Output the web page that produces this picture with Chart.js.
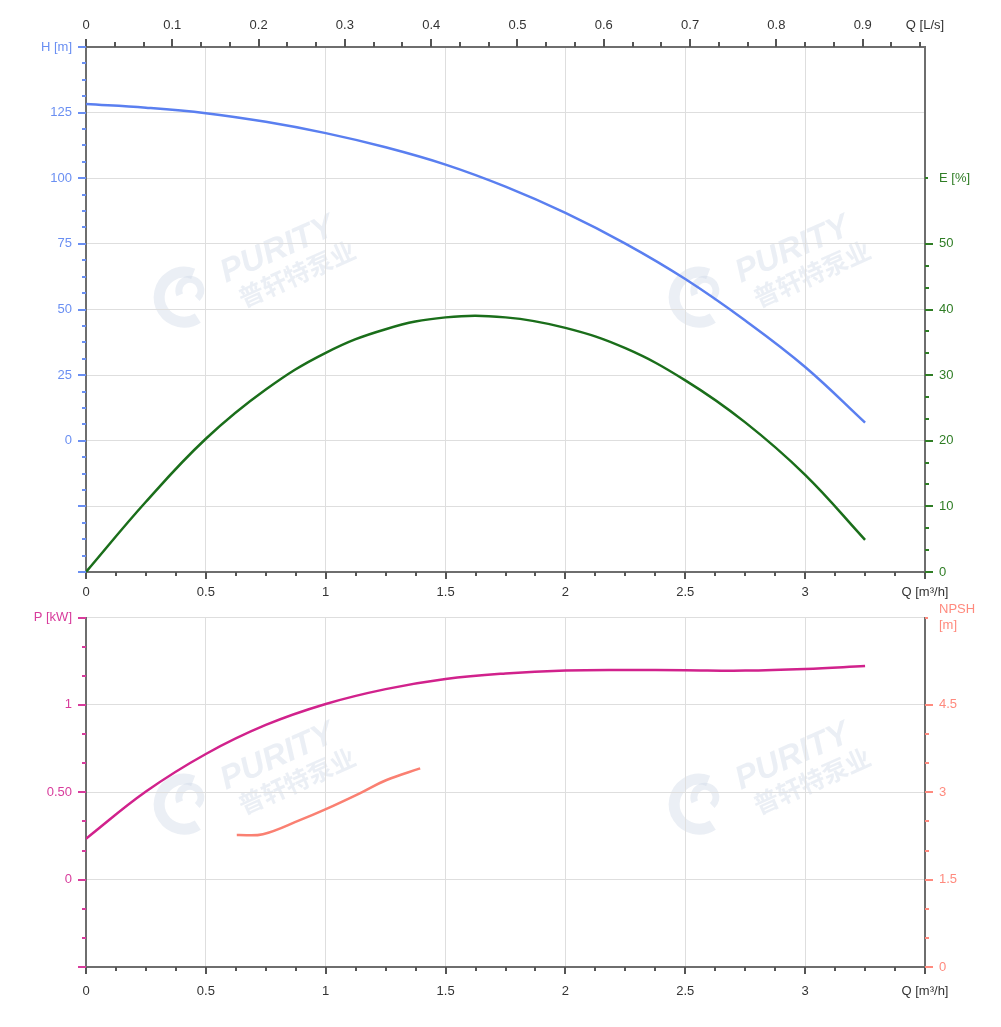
<!DOCTYPE html>
<html><head><meta charset="utf-8">
<script src="https://cdn.jsdelivr.net/npm/chart.js@4.4.0/dist/chart.umd.min.js"></script>
<style>
html,body{margin:0;padding:0;background:#fff;}
#wrap{position:relative;width:1001px;height:1027px;overflow:hidden;}
#c1{position:absolute;left:0;top:0;}
#c2{position:absolute;left:0;top:600px;}
</style></head><body>
<div id="wrap">
<canvas id="c1" width="1001" height="600"></canvas>
<canvas id="c2" width="1001" height="427"></canvas>
</div>
<script>
// ---- data ----
const flowH  = [0, 0.25, 0.5, 0.75, 1, 1.25, 1.5, 1.75, 2, 2.25, 2.5, 2.75, 3, 3.25];
const headM  = [128.3, 126.9, 124.8, 121.5, 117.2, 111.8, 105.2, 96.8, 86.8, 75.1, 61.6, 45.8, 28.1, 6.9];
const flowE  = [0, 0.25, 0.5, 0.75, 1, 1.25, 1.5, 1.75, 2, 2.25, 2.5, 2.75, 3, 3.25];
const effPct = [0, 10.7, 20.3, 27.8, 33.4, 37.0, 38.8, 38.8, 37.2, 34.1, 29.2, 22.8, 14.8, 4.9];
const flowP  = [0, 0.25, 0.5, 0.75, 1, 1.25, 1.5, 1.75, 2, 2.25, 2.5, 2.75, 3, 3.25];
const powerKW= [0.234, 0.504, 0.719, 0.885, 1.005, 1.09, 1.148, 1.18, 1.197, 1.2, 1.198, 1.196, 1.205, 1.222];
const flowN  = [0.629, 0.738, 0.892, 0.996, 1.142, 1.254, 1.394];
const npshM  = [2.266, 2.28, 2.52, 2.70, 2.98, 3.21, 3.41];

const qTicks   = [0, 0.5, 1, 1.5, 2, 2.5, 3, 3.5];
const lsTicks  = [0, 0.1, 0.2, 0.3, 0.4, 0.5, 0.6, 0.7, 0.8, 0.9];
const hTicks   = [-50, -25, 0, 25, 50, 75, 100, 125, 150];
const eTicks   = [0, 10, 20, 30, 40, 50, 60];
const pTicks   = [-0.5, 0, 0.5, 1, 1.5];
const nTicks   = [0, 1.5, 3, 4.5, 6];

const Q_MAX = 3.5, LS_MAX = 3.5 / 3.6;
const FONT = '"Liberation Sans", Arial, sans-serif';
const C = {
  grid: '#dedede', axis: '#6e6e6e', text: '#333333',
  hLine: '#5a7ff0', hText: '#6a8ff2',
  eLine: '#1a6e1a', eText: '#2f7d25',
  pLine: '#d1228c', pText: '#d83c9c',
  nLine: '#fa8072', nText: '#ff8a7e'
};

function pts(xs, ys) { return xs.map((x, i) => ({x: x, y: ys[i]})); }
function setTicks(list) { return s => { s.ticks = list.map(v => ({value: v})); }; }
function range(step, min, max) { const a = []; const n = Math.round((max - min) / step); for (let i = 0; i <= n; i++) a.push(min + i * step); return a; }
function noPad(s) { s.paddingTop = 0; s.paddingBottom = 0; s.paddingLeft = 0; s.paddingRight = 0; }

function drawTickMarks(chart, id, majors, minors, side, majLen, minLen, color) {
  const s = chart.scales[id], ctx = chart.ctx, ca = chart.chartArea;
  ctx.save(); ctx.strokeStyle = color; ctx.lineWidth = 2;
  const draw = (vals, len) => {
    ctx.beginPath();
    vals.forEach(v => {
      const p = Math.round(s.getPixelForValue(v));
      if (side === 'left')   { ctx.moveTo(ca.left - len, p); ctx.lineTo(ca.left, p); }
      if (side === 'right')  { ctx.moveTo(ca.right, p); ctx.lineTo(ca.right + len, p); }
      if (side === 'bottom') { ctx.moveTo(p, ca.bottom); ctx.lineTo(p, ca.bottom + len); }
      if (side === 'top')    { ctx.moveTo(p, ca.top - len); ctx.lineTo(p, ca.top); }
    });
    ctx.stroke();
  };
  draw(minors, minLen); draw(majors, majLen);
  ctx.restore();
}

function drawWatermark(ctx, x, y) {
  ctx.save();
  ctx.translate(x, y);
  ctx.rotate(-24 * Math.PI / 180);
  const col = 'rgba(205,214,230,0.40)';
  ctx.fillStyle = col; ctx.strokeStyle = col;
  ctx.font = 'italic bold 33px ' + FONT;
  ctx.fillText('PURITY', 0, 0);
  ctx.font = 'bold 25px "Noto Sans CJK SC", sans-serif';
  ctx.fillText('普轩特泵业', 6, 30);
  ctx.lineWidth = 11;
  ctx.beginPath(); ctx.arc(-44, -4, 25, 0.45 * Math.PI, 1.75 * Math.PI); ctx.stroke();
  ctx.lineWidth = 7;
  ctx.beginPath(); ctx.arc(-36, -8, 11, 1.0 * Math.PI, 2.4 * Math.PI); ctx.stroke();
  ctx.restore();
}

const wmPlugin1 = { id: 'wm1', beforeDraw(chart) { drawWatermark(chart.ctx, 226, 283); drawWatermark(chart.ctx, 741, 283); } };
const wmPlugin2 = { id: 'wm2', beforeDraw(chart) { drawWatermark(chart.ctx, 226, 190); drawWatermark(chart.ctx, 741, 190); } };

const ticks1 = { id: 'ticks1', afterDraw(chart) {
  drawTickMarks(chart, 'x', qTicks, range(0.125, 0, Q_MAX), 'bottom', 7, 4, '#555');
  drawTickMarks(chart, 'xt', lsTicks, range(1/30, 0, 0.9667), 'top', 8, 5, '#555');
  drawTickMarks(chart, 'yH', hTicks, range(6.25, -50, 150), 'left', 8, 4, C.hText);
  drawTickMarks(chart, 'yE', [0, 10, 20, 30, 40, 50], range(10/3, 0, 50), 'right', 8, 4, C.eText);
  drawTickMarks(chart, 'yE', [60], [], 'right', 3, 3, C.eText);
}};
const ticks2 = { id: 'ticks2', afterDraw(chart) {
  drawTickMarks(chart, 'x', qTicks, range(0.125, 0, Q_MAX), 'bottom', 7, 4, '#555');
  drawTickMarks(chart, 'yP', pTicks, range(1/6, -0.5, 1.5), 'left', 8, 4, C.pText);
  drawTickMarks(chart, 'yN', [0, 1.5, 3, 4.5], range(0.5, 0, 4.5), 'right', 8, 4, C.nText);
  drawTickMarks(chart, 'yN', [6], [], 'right', 3, 3, C.nText);
}};

const font13 = { family: FONT, size: 13 };
const border = { display: true, color: C.axis, width: 2 };

function xAxis(height, padding) {
  return {
    type: 'linear', position: 'bottom', min: 0, max: Q_MAX,
    afterBuildTicks: setTicks(qTicks),
    afterFit: s => { s.height = height; noPad(s); },
    grid: { color: C.grid, lineWidth: 1, drawTicks: false },
    border: border,
    ticks: { font: font13, color: C.text, padding: padding, autoSkip: false, maxRotation: 0,
      callback: v => v === Q_MAX ? 'Q [m³/h]' : String(v) }
  };
}

const lineDs = (label, xs, ys, yId, color) => ({
  label: label, data: pts(xs, ys), yAxisID: yId, xAxisID: 'x', borderColor: color,
  borderWidth: 2.5, pointRadius: 0, tension: 0.4, fill: false
});

new Chart(document.getElementById('c1'), {
  type: 'line',
  data: { datasets: [
    lineDs('H', flowH, headM, 'yH', C.hLine),
    lineDs('E', flowE, effPct, 'yE', C.eLine)
  ]},
  options: {
    responsive: false, animation: false, events: [],
    layout: { padding: 0 },
    plugins: { legend: { display: false }, tooltip: { enabled: false } },
    scales: {
      x: xAxis(28, 13),
      xt: {
        type: 'linear', position: 'top', min: 0, max: LS_MAX,
        afterBuildTicks: s => { s.ticks = lsTicks.concat([LS_MAX]).map(v => ({value: v})); },
        afterFit: s => { s.height = 47; noPad(s); },
        grid: { display: false, drawTicks: false },
        border: border,
        ticks: { font: font13, color: C.text, padding: 14, autoSkip: false, maxRotation: 0,
          callback: v => v === LS_MAX ? 'Q [L/s]' : (v === 0 ? '0' : v.toFixed(1)) }
      },
      yH: {
        type: 'linear', position: 'left', min: -50, max: 150,
        afterBuildTicks: setTicks(hTicks),
        afterFit: s => { s.width = 86; noPad(s); },
        grid: { color: C.grid, lineWidth: 1, drawTicks: false },
        border: border,
        ticks: { font: font13, color: C.hText, padding: 14, autoSkip: false,
          callback: v => v === 150 ? 'H [m]' : (v < 0 ? '' : String(v)) }
      },
      yE: {
        type: 'linear', position: 'right', min: 0, max: 80,
        afterBuildTicks: setTicks(eTicks),
        afterFit: s => { s.width = 76; noPad(s); },
        grid: { display: false, drawTicks: false },
        border: border,
        ticks: { font: font13, color: C.eText, padding: 14, autoSkip: false,
          callback: v => v === 60 ? 'E [%]' : String(v) }
      }
    }
  },
  plugins: [wmPlugin1, ticks1]
});

new Chart(document.getElementById('c2'), {
  type: 'line',
  data: { datasets: [
    lineDs('P', flowP, powerKW, 'yP', C.pLine),
    lineDs('NPSH', flowN, npshM, 'yN', C.nLine)
  ]},
  options: {
    responsive: false, animation: false, events: [],
    layout: { padding: { top: 17.5, left: 0, right: 0, bottom: 0 } },
    plugins: { legend: { display: false }, tooltip: { enabled: false } },
    scales: {
      x: xAxis(60, 17),
      yP: {
        type: 'linear', position: 'left', min: -0.5, max: 1.5,
        afterBuildTicks: setTicks(pTicks),
        afterFit: s => { s.width = 86; noPad(s); },
        grid: { color: C.grid, lineWidth: 1, drawTicks: false },
        border: border,
        ticks: { font: font13, color: C.pText, padding: 14, autoSkip: false,
          callback: v => v === 1.5 ? 'P [kW]' : (v < 0 ? '' : (v === 0.5 ? '0.50' : String(v))) }
      },
      yN: {
        type: 'linear', position: 'right', min: 0, max: 6,
        afterBuildTicks: setTicks(nTicks),
        afterFit: s => { s.width = 76; noPad(s); },
        grid: { display: false, drawTicks: false },
        border: border,
        ticks: { font: font13, color: C.nText, padding: 14, autoSkip: false,
          callback: v => v === 6 ? ['NPSH', '[m]'] : String(v) }
      }
    }
  },
  plugins: [wmPlugin2, ticks2]
});
</script>
</body></html>
